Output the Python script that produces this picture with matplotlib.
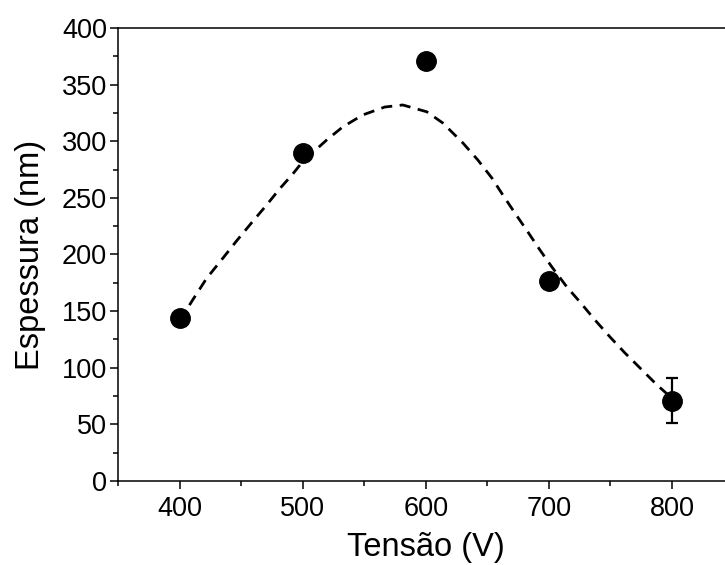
import matplotlib.pyplot as plt
import matplotlib.ticker as ticker

plt.rcParams["font.family"] = ["Liberation Sans", "DejaVu Sans"]

# measured points
tensao = [400, 500, 600, 700, 800]
espessura = [144, 290, 371, 177, 71]
erro = [0, 0, 0, 0, 20]

# dashed guide curve
curve_x = [400, 410.6, 422.0, 435.0, 446.3, 458.5, 470.7, 481.3, 491.9, 500,
           519.5, 532.5, 548.8, 566.7, 581.3, 600.8, 613.8, 630.1, 642.3,
           653.7, 662.6, 672.4, 682.9, 692.7, 702.4, 714.6, 725.2, 737.4,
           749.6, 761.8, 774.0, 787.8, 800]
curve_y = [141.3, 159.8, 179.0, 196.5, 212.0, 228.0, 243.7, 258.0, 271.0, 282,
           301.1, 312.6, 323.2, 330.2, 332.0, 326.0, 316.1, 298.5, 283.4,
           267.5, 252.5, 236.6, 219.9, 204.0, 189.0, 171.3, 158.1, 142.2,
           127.2, 113.0, 99.8, 84.8, 73]

fig = plt.figure(figsize=(7.25, 5.65), dpi=100)
ax = fig.add_axes([0.1628, 0.1487, 0.849, 0.8018])

ax.plot(curve_x, curve_y, color="black", lw=2, dashes=(4, 2.7), zorder=2)
ax.errorbar(tensao, espessura, yerr=erro, fmt="o", color="black",
            markersize=14, elinewidth=1.6, capsize=4, capthick=1.6, zorder=3)

ax.set_xlim(350, 850)
ax.set_ylim(0, 400)
ax.xaxis.set_major_locator(ticker.MultipleLocator(100))
ax.xaxis.set_minor_locator(ticker.MultipleLocator(50))
ax.yaxis.set_major_locator(ticker.MultipleLocator(50))
ax.yaxis.set_minor_locator(ticker.MultipleLocator(25))
ax.tick_params(which="major", direction="out", length=6, width=1.1,
               labelsize=19.5)
ax.tick_params(axis="x", which="major", pad=5)
ax.tick_params(axis="y", which="major", pad=2)
ax.tick_params(which="minor", direction="out", length=3.5, width=1.1)
ax.tick_params(top=False, right=False, which="both")
for s in ax.spines.values():
    s.set_linewidth(1.1)

ax.set_xlabel("Tensão (V)", fontsize=23.5, labelpad=7)
ax.set_ylabel("Espessura (nm)", fontsize=23.5, labelpad=11)

fig.savefig("out.png", dpi=100)
